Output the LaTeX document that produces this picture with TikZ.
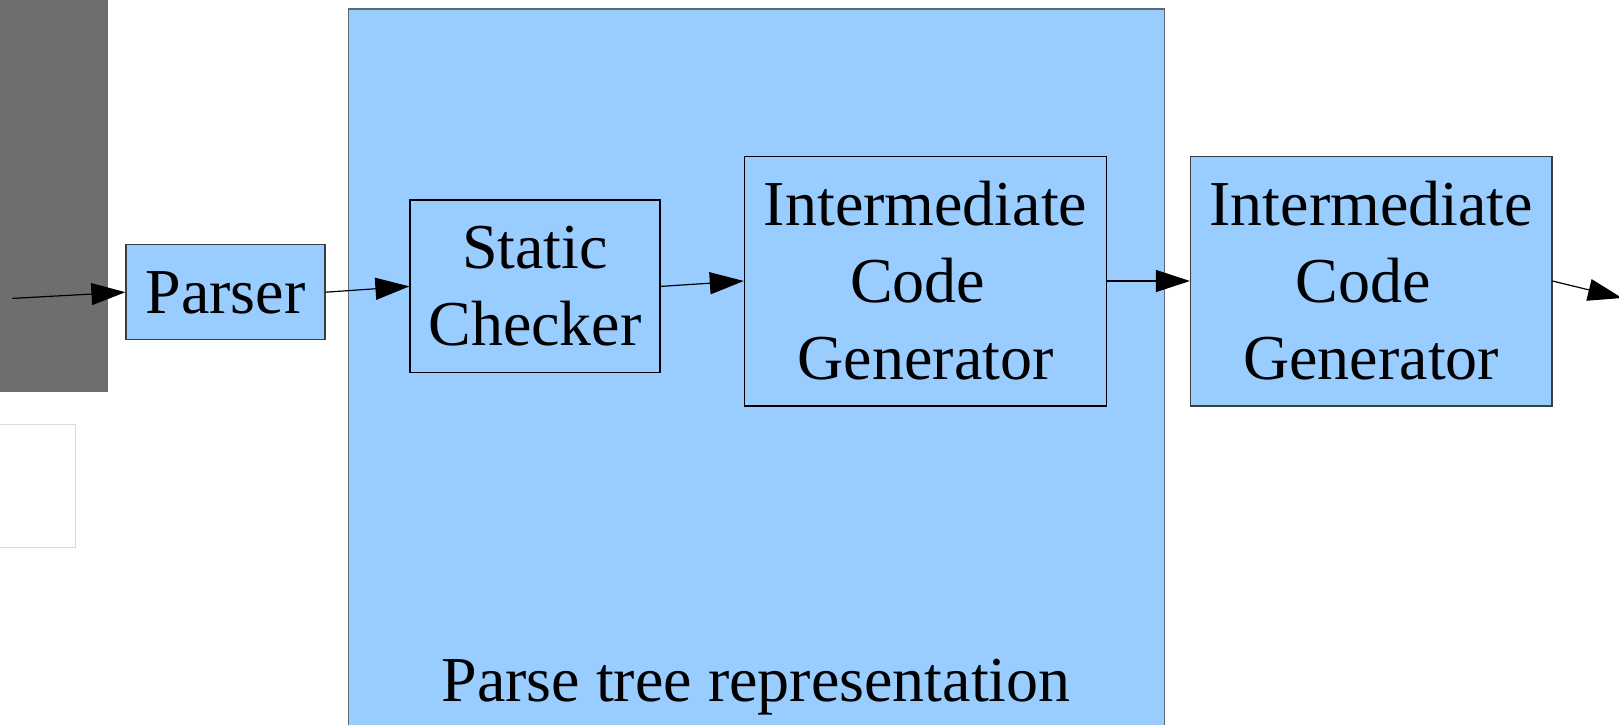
\documentclass[tikz,border=0pt]{standalone}
\usepackage{fontspec}
\setmainfont{Liberation Serif}
\usetikzlibrary{arrows.meta}
\definecolor{boxblue}{RGB}{153,204,255}
\definecolor{panelgrey}{RGB}{110,110,110}
\definecolor{edgedark}{RGB}{55,62,70}
\definecolor{edgepanel}{RGB}{95,105,115}
\definecolor{edgelight}{RGB}{218,218,218}
\tikzset{
  stagefont/.style={font=\fontsize{64}{77}\selectfont},
  stagebox/.style={stagefont, draw=edgedark, fill=boxblue, line width=1.2pt,
    inner sep=0pt, align=center, rectangle},
  flow/.style={line width=1.2pt, -{Triangle[length=34pt,width=22pt]}},
}
\begin{document}
\begin{tikzpicture}[x=1pt,y=-1pt]
\useasboundingbox (0,0) rectangle (1619,725);
\clip (0,0) rectangle (1619,725);

% side panels on the left
\fill[panelgrey] (0,-5) rectangle (108,392);
\draw[edgelight, fill=white, line width=1pt] (-5,424) rectangle (75.5,547);

% enclosing region for the parse tree stages
\node[draw=edgepanel, fill=boxblue, line width=1.4pt, rectangle, inner sep=0pt,
  minimum width=815.6pt, minimum height=740pt, anchor=north west] (region) at (348,8.5) {};
\node[stagefont, anchor=base] (regionlabel) at (756,701) {Parse tree representation};

% stages
\node[stagebox, minimum width=199pt, minimum height=95pt,
  text height=57pt, text depth=14pt] (parser) at (225.5,292.2) {Parser};
\node[stagebox, draw=black, minimum width=250pt, minimum height=172.7pt]
  (static) at (535,286.4) {Static\\Checker};
\node[stagebox, draw=black, minimum width=362.4pt, minimum height=249.8pt]
  (icgA) at (925.6,281) {Intermediate\\Code\hphantom{\ }\\Generator};
\node[stagebox, minimum width=361.4pt, minimum height=249.8pt]
  (icgB) at (1371.2,281) {Intermediate\\Code\hphantom{\ }\\Generator};

% connectors
\coordinate (src) at (12.4,298.4);
\coordinate (dst) at (1622,298);
\draw[flow] (src) -- (parser.west);
\draw[flow] (parser.east) -- (static.west);
\draw[flow] (static.east) -- (icgA.west);
\draw[flow] (icgA.east) -- (icgB.west);
\draw[flow] (icgB.east) -- (dst);
\end{tikzpicture}
\end{document}
